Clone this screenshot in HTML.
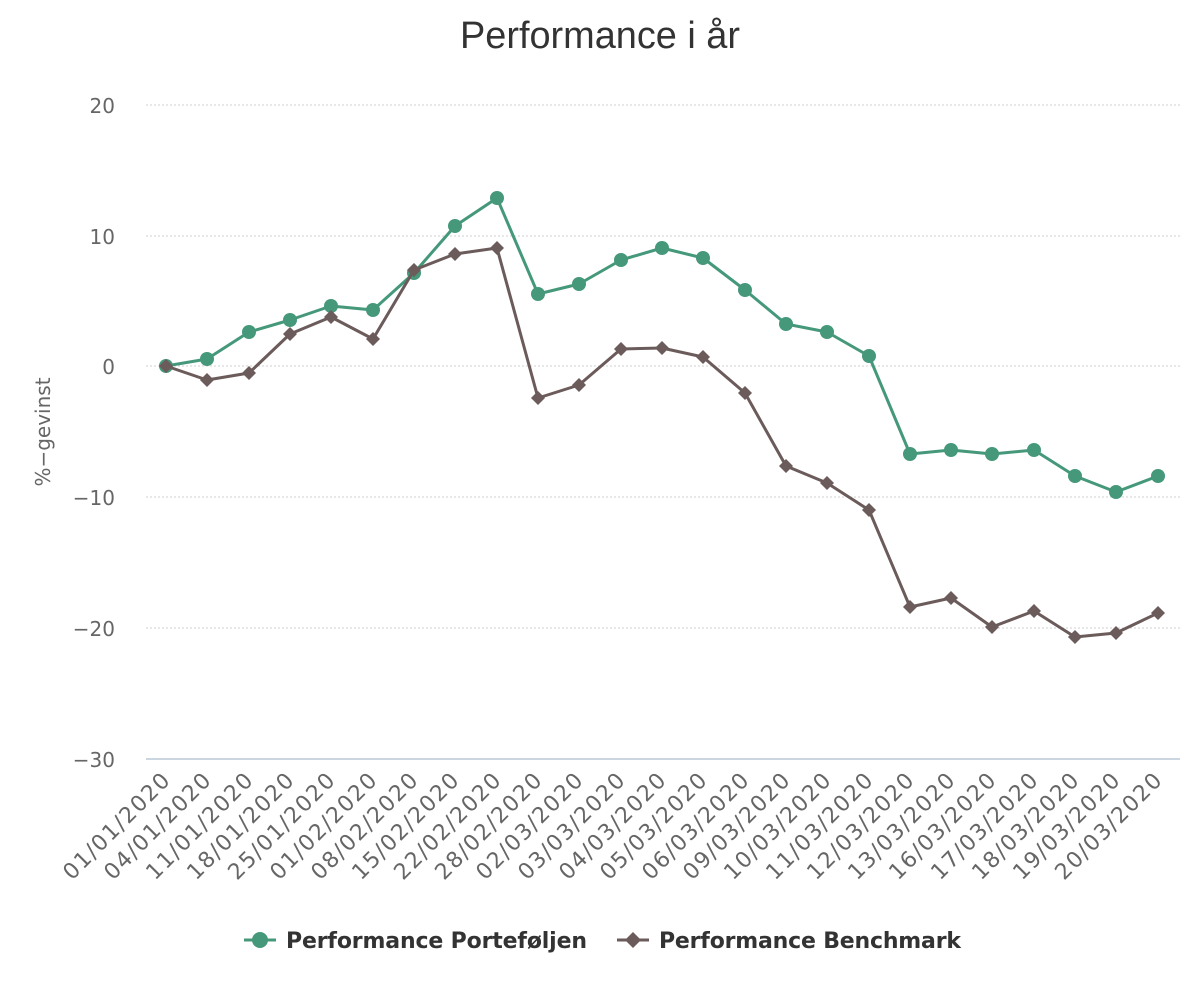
<!DOCTYPE html>
<html><head><meta charset="utf-8"><style>body{margin:0;background:#fff}svg{display:block}</style></head><body>
<svg width="1200" height="1000" xmlns="http://www.w3.org/2000/svg" font-family="DejaVu Sans, Liberation Sans, sans-serif">
<text x="600" y="48" text-anchor="middle" font-size="38" fill="#333" font-family="Liberation Sans Narrow, Liberation Sans, sans-serif" textLength="280" lengthAdjust="spacingAndGlyphs">Performance i år</text>
<g stroke="#cfcfcf" stroke-dasharray="2,2" stroke-width="1">
<line x1="146" y1="105" x2="1180" y2="105"/><line x1="146" y1="236" x2="1180" y2="236"/><line x1="146" y1="366" x2="1180" y2="366"/><line x1="146" y1="497" x2="1180" y2="497"/><line x1="146" y1="628" x2="1180" y2="628"/>
</g>
<line x1="146" y1="759" x2="1180" y2="759" stroke="#ccd6e0" stroke-width="2"/>
<g font-size="20" fill="#666" text-anchor="end">
<text x="115" y="113">20</text><text x="115" y="244">10</text><text x="115" y="374">0</text><text x="115" y="505">−10</text><text x="115" y="636">−20</text><text x="115" y="767">−30</text>
</g>
<text transform="translate(50,432) rotate(-90)" text-anchor="middle" font-size="20" fill="#666">%−gevinst</text>
<g font-size="22" fill="#666" text-anchor="end">
<text transform="translate(171,782) rotate(-45)" textLength="140">01/01/2020</text>
<text transform="translate(212,782) rotate(-45)" textLength="140">04/01/2020</text>
<text transform="translate(254,782) rotate(-45)" textLength="140">11/01/2020</text>
<text transform="translate(295,782) rotate(-45)" textLength="140">18/01/2020</text>
<text transform="translate(336,782) rotate(-45)" textLength="140">25/01/2020</text>
<text transform="translate(378,782) rotate(-45)" textLength="140">01/02/2020</text>
<text transform="translate(419,782) rotate(-45)" textLength="140">08/02/2020</text>
<text transform="translate(460,782) rotate(-45)" textLength="140">15/02/2020</text>
<text transform="translate(502,782) rotate(-45)" textLength="140">22/02/2020</text>
<text transform="translate(543,782) rotate(-45)" textLength="140">28/02/2020</text>
<text transform="translate(584,782) rotate(-45)" textLength="140">02/03/2020</text>
<text transform="translate(626,782) rotate(-45)" textLength="140">03/03/2020</text>
<text transform="translate(667,782) rotate(-45)" textLength="140">04/03/2020</text>
<text transform="translate(708,782) rotate(-45)" textLength="140">05/03/2020</text>
<text transform="translate(750,782) rotate(-45)" textLength="140">06/03/2020</text>
<text transform="translate(791,782) rotate(-45)" textLength="140">09/03/2020</text>
<text transform="translate(832,782) rotate(-45)" textLength="140">10/03/2020</text>
<text transform="translate(874,782) rotate(-45)" textLength="140">11/03/2020</text>
<text transform="translate(915,782) rotate(-45)" textLength="140">12/03/2020</text>
<text transform="translate(956,782) rotate(-45)" textLength="140">13/03/2020</text>
<text transform="translate(997,782) rotate(-45)" textLength="140">16/03/2020</text>
<text transform="translate(1039,782) rotate(-45)" textLength="140">17/03/2020</text>
<text transform="translate(1080,782) rotate(-45)" textLength="140">18/03/2020</text>
<text transform="translate(1121,782) rotate(-45)" textLength="140">19/03/2020</text>
<text transform="translate(1163,782) rotate(-45)" textLength="140">20/03/2020</text>
</g>
<polyline fill="none" stroke="#45987a" stroke-width="3" stroke-linejoin="round" points="166,366 207,359 249,332 290,320 331,306 373,310 414,273 455,226 497,198 538,294 579,284 621,260 662,248 703,258 745,290 786,324 827,332 869,356 910,454 951,450 992,454 1034,450 1075,476 1116,492 1158,476"/>
<g fill="#45987a">
<circle cx="166" cy="366" r="7"/><circle cx="207" cy="359" r="7"/><circle cx="249" cy="332" r="7"/><circle cx="290" cy="320" r="7"/><circle cx="331" cy="306" r="7"/><circle cx="373" cy="310" r="7"/><circle cx="414" cy="273" r="7"/><circle cx="455" cy="226" r="7"/><circle cx="497" cy="198" r="7"/><circle cx="538" cy="294" r="7"/><circle cx="579" cy="284" r="7"/><circle cx="621" cy="260" r="7"/><circle cx="662" cy="248" r="7"/><circle cx="703" cy="258" r="7"/><circle cx="745" cy="290" r="7"/><circle cx="786" cy="324" r="7"/><circle cx="827" cy="332" r="7"/><circle cx="869" cy="356" r="7"/><circle cx="910" cy="454" r="7"/><circle cx="951" cy="450" r="7"/><circle cx="992" cy="454" r="7"/><circle cx="1034" cy="450" r="7"/><circle cx="1075" cy="476" r="7"/><circle cx="1116" cy="492" r="7"/><circle cx="1158" cy="476" r="7"/>
</g>
<polyline fill="none" stroke="#6b5b5b" stroke-width="3" stroke-linejoin="round" points="166,366 207,380 249,373 290,334 331,317 373,339 414,270 455,254 497,248 538,398 579,385 621,349 662,348 703,357 745,393 786,466 827,483 869,510 910,607 951,598 992,627 1034,611 1075,637 1116,633 1158,613"/>
<g fill="#6b5b5b">
<path d="M166,359l7,7-7,7-7-7z"/><path d="M207,373l7,7-7,7-7-7z"/><path d="M249,366l7,7-7,7-7-7z"/><path d="M290,327l7,7-7,7-7-7z"/><path d="M331,310l7,7-7,7-7-7z"/><path d="M373,332l7,7-7,7-7-7z"/><path d="M414,263l7,7-7,7-7-7z"/><path d="M455,247l7,7-7,7-7-7z"/><path d="M497,241l7,7-7,7-7-7z"/><path d="M538,391l7,7-7,7-7-7z"/><path d="M579,378l7,7-7,7-7-7z"/><path d="M621,342l7,7-7,7-7-7z"/><path d="M662,341l7,7-7,7-7-7z"/><path d="M703,350l7,7-7,7-7-7z"/><path d="M745,386l7,7-7,7-7-7z"/><path d="M786,459l7,7-7,7-7-7z"/><path d="M827,476l7,7-7,7-7-7z"/><path d="M869,503l7,7-7,7-7-7z"/><path d="M910,600l7,7-7,7-7-7z"/><path d="M951,591l7,7-7,7-7-7z"/><path d="M992,620l7,7-7,7-7-7z"/><path d="M1034,604l7,7-7,7-7-7z"/><path d="M1075,630l7,7-7,7-7-7z"/><path d="M1116,626l7,7-7,7-7-7z"/><path d="M1158,606l7,7-7,7-7-7z"/>
</g>
<line x1="244" y1="940" x2="276" y2="940" stroke="#45987a" stroke-width="3"/>
<circle cx="260" cy="940" r="8" fill="#45987a"/>
<text x="286" y="948" font-size="22" font-weight="bold" fill="#333" textLength="301">Performance Porteføljen</text>
<line x1="617" y1="940" x2="649" y2="940" stroke="#6b5b5b" stroke-width="3"/>
<path d="M633,932l8,8-8,8-8-8z" fill="#6b5b5b"/>
<text x="659" y="948" font-size="22" font-weight="bold" fill="#333" textLength="302">Performance Benchmark</text>
</svg>
</body></html>
